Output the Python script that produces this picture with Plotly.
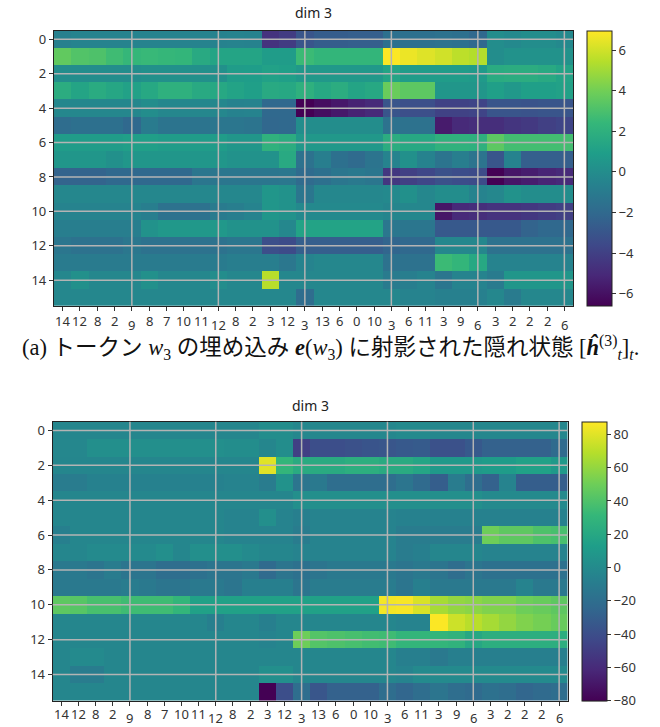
import plotly.graph_objects as go

# ---------------- data ----------------
x_labels = ["14", "12", "8", "2", "9", "8", "7", "10", "11", "12", "8", "2", "3", "12", "3",
            "13", "6", "0", "10", "3", "6", "11", "3", "9", "6", "3", "2", "2", "2", "6"]
major_idx = [4, 9, 14, 19, 24, 29]
y_ticks = [0, 2, 4, 6, 8, 10, 12, 14]
rows = list(range(16))

top_z = [
    [-0.7, -0.5, -0.5, -0.5, -0.5, -0.5, -0.5, -0.5, -0.5, -0.6, -0.5, -0.6, -4.6, -4.2, -3.0, -2.6, -2.6, -2.5, -2.5, -1.6, -1.6, -1.6, -1.5, -1.6, -2.0, 0.0, -0.2, 0.0, 0.0, -0.2],
    [3.6, 3.2, 3.1, 2.7, 2.4, 2.5, 2.4, 2.3, 1.6, 1.3, 1.3, 1.3, 0.8, 0.8, 2.6, 2.3, 2.3, 2.3, 2.3, 6.9, 6.6, 6.3, 6.0, 5.6, 5.4, 0.0, 0.3, 0.3, 0.3, 0.3],
    [0.0, 0.0, 0.0, 0.0, 0.0, 0.2, 0.2, 0.2, 0.2, 0.2, 0.8, 0.9, 1.1, 1.0, 0.6, 0.6, 0.6, 0.6, 0.6, 1.3, 0.8, 0.8, 0.8, 0.8, 0.7, 1.7, 1.8, 1.8, 1.6, 1.2],
    [1.8, 1.3, 1.7, 1.4, 1.1, 1.5, 2.0, 2.0, 1.6, 1.5, 1.2, 1.0, 1.6, 1.5, 2.0, 1.5, 1.8, 1.3, 1.5, 3.8, 3.5, 3.5, 0.5, 0.5, 0.5, 1.0, 0.6, 1.0, 1.0, 1.1],
    [-0.3, -0.3, -0.3, -0.3, -0.3, 0.0, -0.3, -0.3, -0.3, -0.3, -0.6, -0.5, -2.0, -2.0, -6.6, -6.1, -5.7, -5.3, -5.0, -3.0, -3.3, -3.3, -3.9, -3.9, -3.8, -3.0, -3.0, -3.1, -3.0, -3.0],
    [-1.8, -1.6, -1.6, -1.6, -2.0, -1.0, -1.4, -1.4, -1.4, -1.3, -1.3, -1.4, -2.1, -2.0, 0.0, 0.0, 0.0, 0.0, 0.0, -1.5, -1.5, -1.5, -5.6, -5.0, -4.8, -4.8, -4.5, -4.3, -4.0, -3.8],
    [0.8, 0.8, 0.8, 0.8, 1.0, 1.0, 0.8, 0.8, 0.8, 0.8, 0.5, 0.5, 2.1, 1.8, 0.6, 0.6, 0.6, 0.6, 0.6, 1.8, 1.5, 1.5, 2.1, 2.1, 2.0, 3.5, 2.8, 2.8, 2.8, 2.8],
    [0.5, 0.5, 0.5, 0.2, 0.5, 0.5, 0.5, 0.5, 0.5, 0.5, 0.3, 0.3, 0.3, 1.6, -1.5, -0.8, -1.6, -1.9, -1.4, -0.5, 0.2, -0.6, -1.4, -0.8, -1.4, -3.0, -0.6, -2.5, -2.5, -2.5],
    [-2.3, -2.3, -2.3, -2.0, -2.0, -2.0, -2.0, -2.0, -1.3, -1.3, -1.3, -1.3, -1.3, -1.2, -1.9, -1.6, -1.3, -1.1, -1.3, -4.4, -4.0, -3.7, -3.2, -3.4, -3.5, -6.6, -5.8, -5.5, -5.2, -5.0],
    [-0.3, -0.3, -0.3, -0.3, -0.3, -0.3, -0.3, -0.3, -0.3, -0.3, -0.3, -0.3, 0.5, 0.3, -1.3, -0.3, -0.3, -0.3, -0.3, -0.2, 0.2, -0.3, 0.0, 0.0, -0.5, -0.3, 0.3, 0.0, 0.0, 0.0],
    [-0.5, -0.5, -0.5, -0.5, -0.5, -0.8, -1.5, -1.5, -1.5, -1.0, -0.8, -0.5, 0.5, 0.3, -0.2, -0.2, -0.2, -0.2, -0.2, -0.4, -0.3, -0.3, -5.8, -5.0, -4.8, -4.6, -4.6, -4.4, -4.2, -4.0],
    [-0.8, -0.8, -0.8, -0.8, -0.8, 0.3, 0.6, 0.6, 0.6, 0.6, 0.3, 0.3, 0.3, -0.3, 1.2, 1.2, 1.2, 1.2, 1.2, -1.2, -1.3, -1.3, -2.8, -2.8, -2.8, -2.8, -2.8, -2.3, -2.0, -2.0],
    [-1.3, -1.5, -1.5, -1.5, -1.2, -1.5, -1.5, -1.5, -1.5, -1.5, -1.3, -1.3, -3.3, -3.5, -2.5, -2.5, -2.5, -2.5, -2.5, -2.2, -2.0, -2.0, -0.3, -0.3, -0.3, -1.5, -1.5, -1.5, -1.5, -1.5],
    [-1.0, -1.0, -1.0, -1.0, -1.0, -1.0, -1.0, -1.0, -1.0, -1.0, -0.8, -0.8, -0.8, -1.2, -0.5, -0.3, -0.3, -0.3, -0.3, -1.5, -1.5, -1.5, 2.6, 2.3, 1.5, -0.5, -0.5, -0.5, -0.5, -0.5],
    [-0.3, 0.2, -0.3, -0.3, -0.3, 0.2, -0.3, -0.3, -0.3, 0.0, -0.3, -0.3, 5.5, -0.3, -0.3, -0.3, -0.3, -0.3, -0.3, -1.0, -0.8, -0.5, -1.3, -0.5, -0.5, -1.0, 0.5, 0.5, 0.5, 0.5],
    [-0.3, -0.3, -0.3, -0.3, -0.3, -0.3, -0.3, -0.3, -0.3, -0.3, -0.3, -0.3, -0.3, -0.3, -1.8, -0.3, -0.3, -0.3, -0.3, -0.3, -0.5, -0.5, -0.7, -0.7, -0.7, -0.3, -1.0, -0.3, -0.3, -0.3],
]

bottom_z = [
    [-3, -3, -3, -3, -3, -3, -3, -3, -3, -3, -3, -3, 2, 2, -2, -2, -2, -2, -2, -2, 0, 0, -2, -2, -2, -2, -2, -2, -2, -2],
    [-2, -2, 3, 3, 3, 3, 3, 3, 3, 3, 2, 2, -3, 2, -48, -40, -40, -38, -36, -35, -33, -32, -38, -38, -33, -28, -28, -28, -28, -22],
    [-3, -3, -3, -3, -3, -3, -3, -3, -3, -3, -3, -3, 80, 30, 22, 22, 22, 25, 25, 22, 22, 18, 10, 10, 10, 12, 12, 15, 15, 10],
    [-10, -10, -6, -6, -6, -6, -6, -6, -6, -6, -5, -5, -10, 5, -15, -12, -20, -20, -20, -20, -15, -22, -30, -10, -20, -28, -5, -30, -30, -30],
    [-3, -3, -3, -3, -3, -3, -3, -3, -3, -3, -3, -3, -3, -3, 3, 3, 3, 3, 3, 3, 3, 3, 3, 3, 3, 0, 0, 0, 0, 0],
    [-3, -3, -3, -3, -3, -3, -3, -3, -3, -3, -5, -5, 3, -5, -8, -5, -5, -5, -5, -5, -6, -6, -6, -6, -6, -6, -6, -6, -6, -6],
    [-8, -3, -3, -3, -3, -3, -3, -3, -3, -3, -5, -5, -5, -5, -10, -5, -5, -5, -5, -5, -10, -10, -10, -10, -10, 50, 45, 45, 40, 38],
    [-3, -3, 0, 0, 0, 0, 3, -3, 3, 3, 3, 0, -3, -3, -5, -5, -5, -5, -5, -5, -10, -8, -3, -3, -3, -5, -5, -5, -5, -5],
    [-12, -12, -15, -10, -15, -15, -20, -20, -18, -15, -15, -12, -22, -15, -18, -15, -12, -12, -12, -12, -15, -12, -15, -20, -15, -18, -18, -18, -18, -18],
    [-12, -12, -12, -12, -10, -12, -15, -15, -12, -12, -15, -8, -8, -8, -15, -10, -10, -10, -10, -10, -15, -8, -12, -12, -12, -12, -12, -5, -12, -12],
    [45, 43, 38, 38, 35, 35, 35, 30, 15, 15, 15, 15, 15, 15, 15, 15, 15, 15, 15, 85, 86, 78, 65, 60, 58, 55, 55, 50, 48, 45],
    [-3, -3, -3, -3, -3, -3, -3, -3, -3, -8, -3, -3, -8, -3, -3, -3, -3, -3, -3, -3, -5, -5, 87, 75, 70, 65, 60, 55, 52, 48],
    [-3, -3, -3, -3, -3, -3, -3, -3, -3, -3, -3, -3, -5, -3, 50, 42, 40, 38, 36, 35, 30, 30, 30, 28, 20, 25, 25, 25, 25, 25],
    [-3, 0, 0, -3, -3, -3, -3, -3, -3, -3, -3, -3, -3, -3, -3, -3, -3, -3, -3, -3, -8, -8, -12, -8, -8, -8, -8, -8, -8, -8],
    [-3, -10, -10, -3, -3, -3, -3, -3, -3, -3, -3, -3, 3, 3, -3, -3, -3, -3, -3, -3, -5, 0, 0, 0, 0, 0, 0, 0, 0, 0],
    [-3, -3, -3, -3, -3, -3, -3, -3, -3, -3, -3, -3, -80, -40, -20, -35, -28, -28, -28, -20, -25, -20, -15, -20, -22, -18, -20, -25, -22, -20],
]

top_range = [-6.6, 6.95]
top_cb_ticks = [-6, -4, -2, 0, 2, 4, 6]
bottom_range = [-80, 87.6]
bottom_cb_ticks = [-80, -60, -40, -20, 0, 20, 40, 60, 80]

title_text = "dim 3"
caption = ("(a) トークン <i>w</i><sub>3</sub> の埋め込み <b><i>e</i></b>(<i>w</i><sub>3</sub>) "
           "に射影された隠れ状態 [<b><i>ĥ</i></b><sup>(3)</sup><sub><i>t</i></sub>]<sub><i>t</i></sub>.")

# ---------------- layout geometry (pixels) ----------------
W, H = 660, 727
panels = [
    dict(z=top_z, rng=top_range, cbt=top_cb_ticks, x0=54, x1=573, y0=30.7, y1=306, cbx=587,
         xa="x", ya="y", lab_minor=-15, lab_major=-19, title_shift=7),
    dict(z=bottom_z, rng=bottom_range, cbt=bottom_cb_ticks, x0=52.7, x1=567.7, y0=421.7, y1=700.7, cbx=581.5,
         xa="x2", ya="y2", lab_minor=-13, lab_major=-17, title_shift=5),
]

FONT = "Noto Sans, DejaVu Sans, sans-serif"
TICKC = "#333333"
GRIDC = "#b4b4b4"

fig = go.Figure()
layout = dict(width=W, height=H, margin=dict(l=0, r=0, t=0, b=0),
              paper_bgcolor="white", plot_bgcolor="white",
              font=dict(family=FONT, size=13, color=TICKC), showlegend=False)
shapes, annotations = [], []

for k, p in enumerate(panels):
    xd = [p["x0"] / W, p["x1"] / W]
    yd = [1 - p["y1"] / H, 1 - p["y0"] / H]
    cb_len = yd[1] - yd[0]
    fig.add_trace(go.Heatmap(
        z=p["z"], x=list(range(len(x_labels))), y=rows,
        colorscale="Viridis", zmin=p["rng"][0], zmax=p["rng"][1],
        xaxis=p["xa"], yaxis=p["ya"],
        colorbar=dict(x=p["cbx"] / W, xanchor="left", xpad=0,
                      y=(yd[0] + yd[1]) / 2, yanchor="middle", ypad=0,
                      len=cb_len, lenmode="fraction", thickness=25,
                      outlinewidth=1, outlinecolor="#222",
                      tickvals=p["cbt"], ticks="outside", ticklen=4, tickcolor=TICKC,
                      tickfont=dict(size=13, color=TICKC, family=FONT)),
    ))
    xname = "xaxis" if k == 0 else "xaxis2"
    yname = "yaxis" if k == 0 else "yaxis2"
    layout[xname] = dict(domain=xd, anchor=p["ya"], range=[-0.5, len(x_labels) - 0.5],
                         tickmode="array", tickvals=list(range(len(x_labels))),
                         showticklabels=False,
                         ticks="outside", ticklen=4, tickcolor=TICKC, showgrid=False, zeroline=False,
                         showline=True, mirror=True, linecolor="#222", linewidth=1.2)
    layout[yname] = dict(domain=yd, anchor=p["xa"], range=[15.5, -0.5],
                         tickmode="array", tickvals=y_ticks,
                         ticks="outside", ticklen=4, tickcolor=TICKC, showgrid=False, zeroline=False,
                         showline=True, mirror=True, linecolor="#222", linewidth=1.2,
                         tickfont=dict(size=13, color=TICKC))
    # x tick labels (major ones sit a little lower, as in the reference)
    for i, lab in enumerate(x_labels):
        annotations.append(dict(x=i, xref=p["xa"], y=0, yref=p["ya"] + " domain",
                                text=lab, showarrow=False, yanchor="middle", borderpad=0,
                                yshift=p["lab_major"] if i in major_idx else p["lab_minor"],
                                font=dict(size=13, color=TICKC, family=FONT)))
    # grid lines drawn over the heatmap
    for i in major_idx:
        shapes.append(dict(type="line", xref=p["xa"], yref=p["ya"] + " domain",
                           x0=i, x1=i, y0=0, y1=1, line=dict(color=GRIDC, width=1.5), layer="above"))
    for v in y_ticks:
        shapes.append(dict(type="line", xref=p["xa"] + " domain", yref=p["ya"],
                           x0=0, x1=1, y0=v, y1=v, line=dict(color=GRIDC, width=1.5), layer="above"))
    # grid lines across the colorbar
    zr = p["rng"]
    for v in p["cbt"]:
        yy = yd[0] + (v - zr[0]) / (zr[1] - zr[0]) * cb_len
        shapes.append(dict(type="line", xref="paper", yref="paper",
                           x0=(p["cbx"] + 1) / W, x1=(p["cbx"] + 25) / W, y0=yy, y1=yy,
                           line=dict(color=GRIDC, width=1.5), layer="above"))
    # panel title
    annotations.append(dict(x=(xd[0] + xd[1]) / 2, xref="paper", y=yd[1], yref="paper",
                            yanchor="bottom", yshift=p["title_shift"], text=title_text, showarrow=False,
                            font=dict(size=14, color="#222", family=FONT)))

annotations.append(dict(x=0.5, xref="paper", y=1 - 347 / H, yref="paper", yanchor="middle",
                        text=caption, showarrow=False, borderpad=0,
                        font=dict(size=22.5, color="#111",
                                  family="Liberation Serif, DejaVu Serif, Noto Sans CJK JP, serif")))

layout["shapes"] = shapes
layout["annotations"] = annotations
fig.update_layout(**layout)
fig.write_html("out.html", config={"displayModeBar": False},
               post_script="document.body.style.margin='0';document.body.style.overflow='hidden';")
